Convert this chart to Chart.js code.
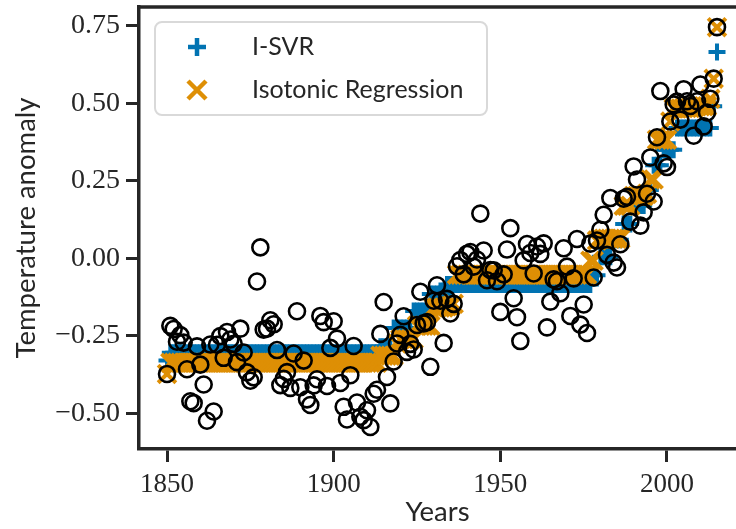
<!DOCTYPE html>
<html>
<head>
<meta charset="utf-8">
<title>Temperature anomaly</title>
<script src="https://cdn.jsdelivr.net/npm/chart.js@4.4.1/dist/chart.umd.min.js"></script>
<style>
  html, body { margin: 0; padding: 0; background: #fff; overflow: hidden; }
  #chart { display: block; }
</style>
</head>
<body>
<canvas id="chart" width="736" height="529"></canvas>
<script>
// yearly global temperature anomaly, 1850-2015
var years = [
  1850, 1851, 1852, 1853, 1854, 1855, 1856, 1857, 1858, 1859,
  1860, 1861, 1862, 1863, 1864, 1865, 1866, 1867, 1868, 1869,
  1870, 1871, 1872, 1873, 1874, 1875, 1876, 1877, 1878, 1879,
  1880, 1881, 1882, 1883, 1884, 1885, 1886, 1887, 1888, 1889,
  1890, 1891, 1892, 1893, 1894, 1895, 1896, 1897, 1898, 1899,
  1900, 1901, 1902, 1903, 1904, 1905, 1906, 1907, 1908, 1909,
  1910, 1911, 1912, 1913, 1914, 1915, 1916, 1917, 1918, 1919,
  1920, 1921, 1922, 1923, 1924, 1925, 1926, 1927, 1928, 1929,
  1930, 1931, 1932, 1933, 1934, 1935, 1936, 1937, 1938, 1939,
  1940, 1941, 1942, 1943, 1944, 1945, 1946, 1947, 1948, 1949,
  1950, 1951, 1952, 1953, 1954, 1955, 1956, 1957, 1958, 1959,
  1960, 1961, 1962, 1963, 1964, 1965, 1966, 1967, 1968, 1969,
  1970, 1971, 1972, 1973, 1974, 1975, 1976, 1977, 1978, 1979,
  1980, 1981, 1982, 1983, 1984, 1985, 1986, 1987, 1988, 1989,
  1990, 1991, 1992, 1993, 1994, 1995, 1996, 1997, 1998, 1999,
  2000, 2001, 2002, 2003, 2004, 2005, 2006, 2007, 2008, 2009,
  2010, 2011, 2012, 2013, 2014, 2015
];

var anomaly = [
  -0.373, -0.218, -0.228, -0.269, -0.248, -0.272, -0.358, -0.461, -0.467, -0.284,
  -0.343, -0.407, -0.524, -0.278, -0.494, -0.279, -0.251, -0.321, -0.238, -0.262,
  -0.276, -0.335, -0.227, -0.304, -0.368, -0.395, -0.384, -0.075, 0.035, -0.230,
  -0.227, -0.200, -0.213, -0.296, -0.409, -0.389, -0.367, -0.418, -0.307, -0.171,
  -0.416, -0.330, -0.455, -0.473, -0.410, -0.390, -0.186, -0.206, -0.412, -0.289,
  -0.203, -0.259, -0.402, -0.479, -0.520, -0.377, -0.283, -0.465, -0.511, -0.522,
  -0.490, -0.544, -0.437, -0.424, -0.244, -0.141, -0.383, -0.468, -0.333, -0.275,
  -0.247, -0.187, -0.302, -0.276, -0.294, -0.215, -0.108, -0.210, -0.206, -0.350,
  -0.137, -0.087, -0.137, -0.273, -0.131, -0.178, -0.147, -0.026, -0.006, -0.052,
  0.014, 0.020, -0.027, -0.004, 0.144, 0.025, -0.071, -0.038, -0.039, -0.074,
  -0.173, -0.052, 0.028, 0.097, -0.129, -0.190, -0.267, -0.007, 0.046, 0.017,
  -0.049, 0.038, 0.014, 0.048, -0.223, -0.140, -0.068, -0.074, -0.113, 0.032,
  -0.027, -0.186, -0.065, 0.062, -0.214, -0.149, -0.241, 0.047, -0.062, 0.057,
  0.092, 0.140, 0.011, 0.194, -0.014, -0.030, 0.045, 0.192, 0.198, 0.118,
  0.296, 0.254, 0.105, 0.148, 0.208, 0.325, 0.183, 0.390, 0.539, 0.306,
  0.294, 0.441, 0.496, 0.505, 0.447, 0.545, 0.506, 0.491, 0.395, 0.506,
  0.560, 0.425, 0.470, 0.514, 0.579, 0.745
];

// isotonic regression fit (orange x)
var isotonic = [
  -0.373, -0.337, -0.337, -0.337, -0.337, -0.337, -0.337, -0.337, -0.337, -0.337,
  -0.337, -0.337, -0.337, -0.337, -0.337, -0.337, -0.337, -0.337, -0.337, -0.337,
  -0.337, -0.337, -0.337, -0.337, -0.337, -0.337, -0.337, -0.337, -0.337, -0.337,
  -0.337, -0.337, -0.337, -0.337, -0.337, -0.337, -0.337, -0.337, -0.337, -0.337,
  -0.337, -0.337, -0.337, -0.337, -0.337, -0.337, -0.337, -0.337, -0.337, -0.337,
  -0.337, -0.337, -0.337, -0.337, -0.337, -0.337, -0.337, -0.337, -0.337, -0.337,
  -0.337, -0.337, -0.337, -0.337, -0.314, -0.314, -0.314, -0.314, -0.314, -0.275,
  -0.261, -0.261, -0.261, -0.261, -0.261, -0.218, -0.218, -0.218, -0.218, -0.218,
  -0.159, -0.159, -0.159, -0.159, -0.155, -0.155, -0.147, -0.053, -0.053, -0.053,
  -0.053, -0.053, -0.053, -0.053, -0.053, -0.053, -0.053, -0.053, -0.053, -0.053,
  -0.053, -0.053, -0.053, -0.053, -0.053, -0.053, -0.053, -0.053, -0.053, -0.053,
  -0.053, -0.053, -0.053, -0.053, -0.053, -0.053, -0.053, -0.053, -0.053, -0.053,
  -0.053, -0.053, -0.053, -0.053, -0.053, -0.053, -0.053, -0.008, -0.008, 0.057,
  0.063, 0.063, 0.063, 0.063, 0.063, 0.063, 0.063, 0.169, 0.169, 0.169,
  0.201, 0.201, 0.201, 0.201, 0.208, 0.254, 0.254, 0.382, 0.382, 0.382,
  0.382, 0.441, 0.483, 0.483, 0.483, 0.484, 0.484, 0.484, 0.484, 0.490,
  0.490, 0.490, 0.490, 0.514, 0.579, 0.745
];

// I-SVR fit (blue +)
var isvr = [
  -0.330, -0.305, -0.305, -0.305, -0.305, -0.305, -0.305, -0.305, -0.305, -0.305,
  -0.305, -0.305, -0.305, -0.305, -0.305, -0.305, -0.305, -0.305, -0.305, -0.305,
  -0.305, -0.305, -0.305, -0.305, -0.305, -0.305, -0.305, -0.305, -0.305, -0.305,
  -0.305, -0.305, -0.305, -0.305, -0.305, -0.305, -0.305, -0.305, -0.305, -0.305,
  -0.305, -0.305, -0.305, -0.305, -0.305, -0.305, -0.305, -0.305, -0.305, -0.305,
  -0.305, -0.305, -0.305, -0.305, -0.305, -0.305, -0.305, -0.305, -0.305, -0.305,
  -0.305, -0.305, -0.305, -0.305, -0.285, -0.285, -0.285, -0.285, -0.225, -0.225,
  -0.225, -0.225, -0.225, -0.225, -0.170, -0.170, -0.170, -0.170, -0.170, -0.115,
  -0.115, -0.115, -0.115, -0.115, -0.085, -0.085, -0.085, -0.085, -0.085, -0.085,
  -0.085, -0.085, -0.085, -0.085, -0.085, -0.085, -0.085, -0.085, -0.085, -0.085,
  -0.085, -0.085, -0.085, -0.085, -0.085, -0.085, -0.085, -0.085, -0.085, -0.085,
  -0.085, -0.085, -0.085, -0.085, -0.085, -0.085, -0.085, -0.085, -0.085, -0.085,
  -0.085, -0.085, -0.085, -0.085, -0.085, -0.085, -0.085, -0.085, -0.055, -0.055,
  0.005, 0.005, 0.005, 0.005, 0.060, 0.060, 0.060, 0.110, 0.110, 0.110,
  0.170, 0.170, 0.170, 0.170, 0.220, 0.220, 0.300, 0.300, 0.300, 0.350,
  0.350, 0.350, 0.350, 0.420, 0.420, 0.420, 0.420, 0.420, 0.420, 0.420,
  0.420, 0.420, 0.420, 0.420, 0.490, 0.665
];

var xTicks = [1850, 1900, 1950, 2000];
var yTicks = [-0.5, -0.25, 0, 0.25, 0.5, 0.75];

var BLUE = '#0173b2';
var ORANGE = '#de8f05';
var INK = '#262626';

function points(values) {
  return years.map(function(y, i) { return { x: y, y: values[i] }; });
}

function fmtY(v) {
  return (v < 0 ? '\u2212' : '') + Math.abs(v).toFixed(2);
}

// top spine and the framed legend in the upper left corner
var framePlugin = {
  id: 'frame',
  afterDraw: function(chart) {
    var ctx = chart.ctx;
    var a = chart.chartArea;
    ctx.save();
    ctx.strokeStyle = INK;
    ctx.lineWidth = 3.5;
    ctx.beginPath();
    ctx.moveTo(a.left - 1.75, a.top);
    ctx.lineTo(a.right + 10, a.top);
    ctx.stroke();

    // legend box
    var bx = 155, by = 22, bw = 332, bh = 93, r = 7;
    ctx.beginPath();
    ctx.moveTo(bx + r, by);
    ctx.arcTo(bx + bw, by, bx + bw, by + bh, r);
    ctx.arcTo(bx + bw, by + bh, bx, by + bh, r);
    ctx.arcTo(bx, by + bh, bx, by, r);
    ctx.arcTo(bx, by, bx + bw, by, r);
    ctx.closePath();
    ctx.fillStyle = 'rgba(255,255,255,0.85)';
    ctx.fill();
    ctx.strokeStyle = '#d9d9d9';
    ctx.lineWidth = 2;
    ctx.stroke();

    var ds = chart.data.datasets;
    ctx.lineWidth = 4.5;
    // plus marker
    ctx.strokeStyle = BLUE;
    ctx.beginPath();
    ctx.moveTo(188, 47); ctx.lineTo(206, 47);
    ctx.moveTo(197, 38); ctx.lineTo(197, 56);
    ctx.stroke();
    // x marker
    ctx.strokeStyle = ORANGE;
    ctx.beginPath();
    ctx.moveTo(188, 81); ctx.lineTo(206, 99);
    ctx.moveTo(206, 81); ctx.lineTo(188, 99);
    ctx.stroke();

    ctx.fillStyle = INK;
    ctx.font = '25px Lato';
    ctx.textBaseline = 'middle';
    ctx.textAlign = 'left';
    ctx.fillText(ds[0].label, 252, 47);
    ctx.fillText(ds[1].label, 252, 90);
    ctx.restore();
  }
};

new Chart(document.getElementById('chart'), {
  type: 'scatter',
  data: {
    datasets: [{
      label: 'I-SVR',
      data: points(isvr),
      pointStyle: 'cross',
      radius: 8.5,
      borderWidth: 4,
      borderColor: BLUE,
      backgroundColor: BLUE,
      order: 3
    }, {
      label: 'Isotonic Regression',
      data: points(isotonic),
      pointStyle: 'crossRot',
      radius: 12.5,
      borderWidth: 4,
      borderColor: ORANGE,
      backgroundColor: ORANGE,
      order: 2
    }, {
      label: 'data',
      data: points(anomaly),
      pointStyle: 'circle',
      radius: 8,
      borderWidth: 2.6,
      borderColor: '#000',
      backgroundColor: 'rgba(0,0,0,0)',
      order: 1
    }]
  },
  options: {
    responsive: false,
    animation: false,
    events: [],
    layout: { autoPadding: false, padding: { left: 0, right: 0, top: 7, bottom: 0 } },
    plugins: {
      legend: { display: false },
      tooltip: { enabled: false }
    },
    scales: {
      x: {
        type: 'linear',
        min: 1841.6,
        max: 2020.7,
        afterBuildTicks: function(s) { s.ticks = xTicks.map(function(v) { return { value: v }; }); },
        afterFit: function(s) { s.height = 80; s.paddingLeft = 0; s.paddingRight = 0; },
        grid: { drawOnChartArea: false, drawTicks: true, tickLength: 13, tickWidth: 3, tickColor: INK },
        border: { display: true, width: 3.5, color: INK },
        ticks: {
          autoSkip: false, maxRotation: 0, padding: 7, color: INK,
          font: { family: 'Liberation Serif', size: 27 },
          callback: function(v) { return String(v); }
        },
        title: {
          display: true, text: 'Years', color: INK, padding: 0,
          font: { family: 'Lato', size: 27.5 }
        }
      },
      y: {
        min: -0.615,
        max: 0.81,
        afterBuildTicks: function(s) { s.ticks = yTicks.map(function(v) { return { value: v }; }); },
        afterFit: function(s) { s.width = 139; s.paddingTop = 0; s.paddingBottom = 0; },
        grid: { drawOnChartArea: false, drawTicks: true, tickLength: 13, tickWidth: 3, tickColor: INK },
        border: { display: true, width: 3.5, color: INK },
        ticks: {
          autoSkip: false, padding: 6, color: INK,
          font: { family: 'Liberation Serif', size: 28 },
          callback: fmtY
        },
        title: {
          display: true, text: 'Temperature anomaly', color: INK,
          padding: { top: 10, bottom: 0 },
          font: { family: 'Lato', size: 27.5 }
        }
      }
    }
  },
  plugins: [framePlugin]
});
</script>
</body>
</html>
